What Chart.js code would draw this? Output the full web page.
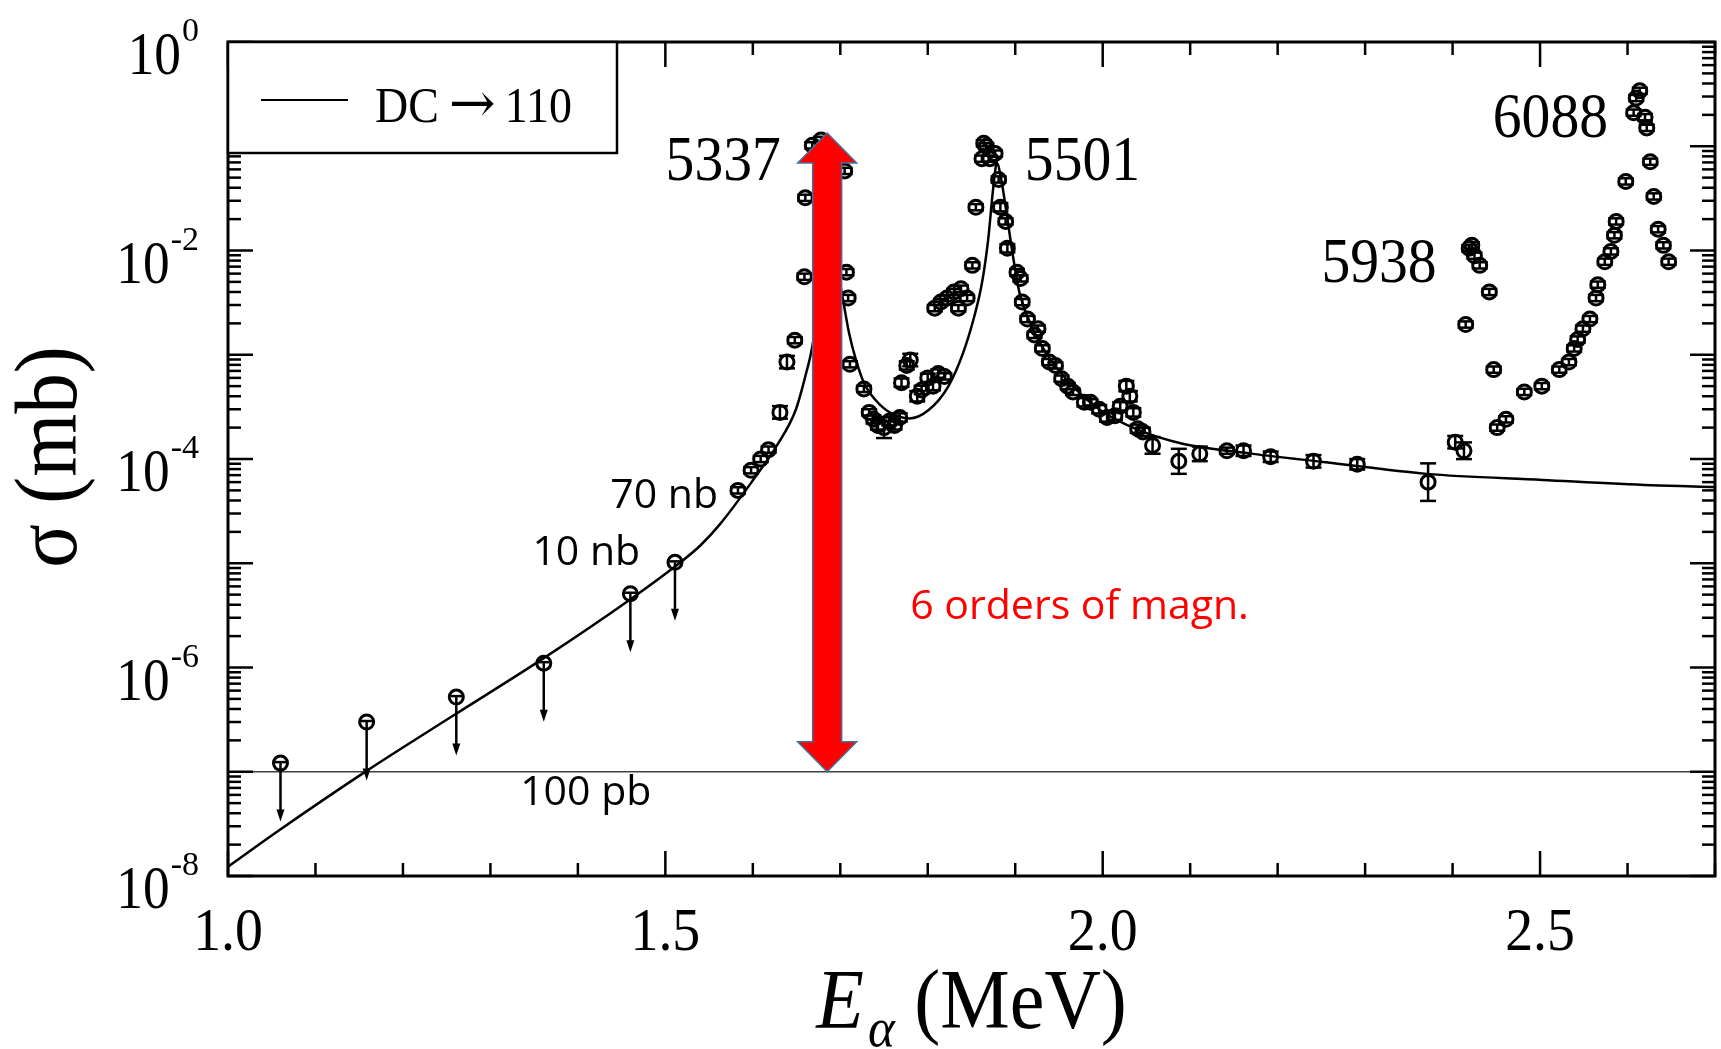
<!DOCTYPE html>
<html>
<head>
<meta charset="utf-8">
<title>DC → 110 cross section</title>
<script src="https://cdn.jsdelivr.net/npm/chart.js@4.4.1/dist/chart.umd.min.js"></script>
<style>
  html, body { margin: 0; padding: 0; background: #fff; overflow: hidden; }
  #chart { position: absolute; left: 0; top: 0; }
</style>
</head>
<body>
<canvas id="chart" width="1725" height="1049"></canvas>
<script>
// ---- values ---------------------------------------------------------------

// DC -> 110 calculation (sigma in mb)
const curveE = [1.000, 1.0585, 1.1585, 1.2585, 1.361, 1.461, 1.511, 1.540, 1.563, 1.598, 1.629,
  1.649, 1.660, 1.668, 1.676, 1.686, 1.696, 1.703, 1.710, 1.718, 1.727,
  1.740, 1.758, 1.779, 1.801, 1.823, 1.840, 1.853, 1.862, 1.869, 1.875,
  1.879, 1.884, 1.890, 1.897, 1.905, 1.919, 1.936, 1.962, 1.997, 2.040,
  2.090, 2.172, 2.255, 2.370, 2.503, 2.627, 2.700];
const curveSigma = [1.23e-8, 2.75e-8, 1.02e-7, 3.5e-7, 1.23e-6, 4.57e-6, 9.3e-6, 1.48e-5, 2.4e-5, 5.9e-5, 1.41e-4,
  2.95e-4, 6.2e-4, 1.20e-3, 3.5e-3, 2.5e-2, 7.1e-3, 3.4e-3, 1.62e-3, 8.9e-4, 5.4e-4,
  3.7e-4, 2.75e-4, 2.45e-4, 2.95e-4, 4.9e-4, 1.02e-3, 2.3e-3, 4.9e-3, 1.26e-2, 4.1e-2,
  6.9e-2, 4.8e-2, 2.3e-2, 9.3e-3, 3.9e-3, 1.86e-3, 1.02e-3, 5.4e-4, 2.95e-4, 1.91e-4,
  1.41e-4, 1.12e-4, 9.3e-5, 7.2e-5, 6.3e-5, 5.6e-5, 5.4e-5];

// measured points (sigma in mb), error half-width in decades
const dataE = [1.583, 1.598, 1.609, 1.618, 1.631, 1.639, 1.648, 1.659, 1.660, 1.668,
  1.678, 1.705, 1.707, 1.709, 1.711, 1.727, 1.733, 1.738, 1.743, 1.750,
  1.756, 1.762, 1.768, 1.770, 1.776, 1.780, 1.788, 1.793, 1.800, 1.806,
  1.812, 1.819, 1.808, 1.815, 1.822, 1.830, 1.838, 1.845, 1.835, 1.851,
  1.855, 1.862, 1.864, 1.867, 1.871, 1.877, 1.881, 1.883, 1.889, 1.891,
  1.902, 1.906, 1.908, 1.914, 1.922, 1.926, 1.931, 1.939, 1.946, 1.953,
  1.960, 1.966, 1.979, 1.986, 1.996, 2.005, 2.014, 2.020, 2.027, 2.031,
  2.035, 2.040, 2.046, 2.057, 2.087, 2.111, 2.142, 2.161, 2.192, 2.241,
  2.291, 2.372, 2.403, 2.413, 2.415, 2.419, 2.422, 2.425, 2.431, 2.442,
  2.447, 2.451, 2.461, 2.482, 2.502, 2.522, 2.533, 2.539, 2.543, 2.549,
  2.557, 2.564, 2.566, 2.574, 2.581, 2.585, 2.587, 2.598, 2.607, 2.610,
  2.614, 2.620, 2.622, 2.626, 2.630, 2.635, 2.641, 2.647];
const dataSigma = [5.0e-5, 7.8e-5, 1.0e-4, 1.23e-4, 2.8e-4, 8.5e-4, 1.38e-3, 5.6e-3, 3.2e-2, 1.02e-1,
  1.15e-1, 5.8e-2, 6.2e-3, 3.5e-3, 8.1e-4, 4.7e-4, 2.8e-4, 2.4e-4, 2.1e-4, 2.0e-4,
  2.3e-4, 2.1e-4, 2.5e-4, 5.4e-4, 7.9e-4, 8.9e-4, 4.0e-4, 4.6e-4, 6.0e-4, 5.0e-4,
  6.6e-4, 6.2e-4, 2.8e-3, 3.2e-3, 3.5e-3, 4.0e-3, 4.3e-3, 3.5e-3, 2.8e-3, 7.2e-3,
  2.6e-2, 7.6e-2, 1.07e-1, 1.0e-1, 7.6e-2, 8.5e-2, 4.8e-2, 2.6e-2, 1.9e-2, 1.05e-2,
  6.2e-3, 5.4e-3, 3.2e-3, 2.2e-3, 1.55e-3, 1.78e-3, 1.15e-3, 8.5e-4, 7.9e-4, 5.9e-4,
  5.0e-4, 4.4e-4, 3.5e-4, 3.5e-4, 3.0e-4, 2.5e-4, 2.6e-4, 3.2e-4, 5.0e-4, 4.0e-4,
  2.8e-4, 1.95e-4, 1.82e-4, 1.35e-4, 9.5e-5, 1.12e-4, 1.2e-4, 1.2e-4, 1.05e-4, 9.5e-5,
  8.9e-5, 6.0e-5, 1.45e-4, 1.2e-4, 1.95e-3, 1.05e-2, 1.12e-2, 8.9e-3, 7.2e-3, 4.0e-3,
  7.2e-4, 2.0e-4, 2.4e-4, 4.4e-4, 5.0e-4, 7.2e-4, 8.5e-4, 1.15e-3, 1.4e-3, 1.78e-3,
  2.2e-3, 3.5e-3, 4.7e-3, 7.8e-3, 9.8e-3, 1.4e-2, 1.9e-2, 4.6e-2, 2.1e-1, 2.9e-1,
  3.4e-1, 1.9e-1, 1.5e-1, 7.1e-2, 3.3e-2, 1.6e-2, 1.12e-2, 7.8e-3];
const dataErrDex = [0.03, 0.03, 0.03, 0.03, 0.06, 0.06, 0.03, 0.03, 0.03, 0.03,
  0.03, 0.03, 0.03, 0.03, 0.03, 0.03, 0.03, 0.04, 0.04, 0.10,
  0.04, 0.04, 0.04, 0.04, 0.04, 0.06, 0.05, 0.04, 0.04, 0.04,
  0.04, 0.03, 0.03, 0.03, 0.03, 0.03, 0.03, 0.03, 0.03, 0.03,
  0.03, 0.03, 0.03, 0.03, 0.03, 0.03, 0.03, 0.04, 0.03, 0.04,
  0.03, 0.03, 0.03, 0.03, 0.03, 0.03, 0.03, 0.03, 0.03, 0.03,
  0.03, 0.03, 0.04, 0.03, 0.04, 0.04, 0.04, 0.04, 0.05, 0.05,
  0.04, 0.04, 0.04, 0.08, 0.12, 0.07, 0.03, 0.05, 0.05, 0.06,
  0.05, 0.18, 0.06, 0.08, 0.03, 0.03, 0.03, 0.03, 0.03, 0.03,
  0.03, 0.03, 0.03, 0.03, 0.03, 0.03, 0.03, 0.03, 0.03, 0.03,
  0.03, 0.03, 0.03, 0.03, 0.03, 0.03, 0.03, 0.03, 0.03, 0.03,
  0.03, 0.03, 0.03, 0.03, 0.03, 0.03, 0.03, 0.03];

// upper limits (sigma in mb)
const limitE = [1.060, 1.1585, 1.261, 1.361, 1.460, 1.511];
const limitSigma = [1.21e-7, 3.0e-7, 5.2e-7, 1.1e-6, 5.1e-6, 1.02e-5];

// tick labels
const xTickLabelValues = [1.0, 1.5, 2.0, 2.5];
const xTickLabels = ['1.0', '1.5', '2.0', '2.5'];
const yTickLabelValues = [1, 1e-2, 1e-4, 1e-6, 1e-8];
const yTickLabelExps = ['0', '-2', '-4', '-6', '-8'];

// resonance names and notes
const peakNames = ['5337', '5501', '5938', '6088'];
const noteTexts = ['70 nb', '10 nb', '100 pb', '6 orders of magn.'];
const refLineSigma = 1e-7;   // 100 pb

// ---- helpers ----------------------------------------------------------------
const SERIF = '"Liberation Serif", "Times New Roman", serif';
const SANS = '"Open Sans", "Noto Sans", sans-serif';

function txt(ctx, s, x, y, font, align, sx, color) {
  ctx.save();
  ctx.font = font;
  ctx.fillStyle = color || '#000';
  ctx.textAlign = align || 'left';
  ctx.textBaseline = 'alphabetic';
  ctx.translate(x, y);
  ctx.scale(sx || 1, 1);
  ctx.fillText(s, 0, 0);
  ctx.restore();
}

function textWidth(ctx, s, font, sx) {
  ctx.save();
  ctx.font = font;
  const w = ctx.measureText(s).width * (sx || 1);
  ctx.restore();
  return w;
}

function line(ctx, x1, y1, x2, y2) {
  ctx.beginPath();
  ctx.moveTo(x1, y1);
  ctx.lineTo(x2, y2);
  ctx.stroke();
}

// ---- plugin: frame, inward ticks, labels, error bars, annotations --------
const figureDecor = {
  id: 'figureDecor',

  beforeDatasetsDraw(chart, args, o) {
    const { ctx, chartArea: a, scales: { y } } = chart;
    const py = y.getPixelForValue(refLineSigma);
    ctx.save();
    ctx.strokeStyle = '#404040';
    ctx.lineWidth = 1.5;
    line(ctx, a.left, py, a.right, py);
    ctx.restore();
  },

  afterDatasetsDraw(chart, args, o) {
    const { ctx, scales: { x, y } } = chart;
    ctx.save();
    ctx.strokeStyle = '#000';
    ctx.fillStyle = '#000';
    ctx.lineWidth = 2.5;

    // error bars
    dataE.forEach((e, i) => {
      const px = x.getPixelForValue(e);
      const f = Math.pow(10, dataErrDex[i]);
      const y1 = y.getPixelForValue(dataSigma[i] * f);
      const y2 = y.getPixelForValue(dataSigma[i] / f);
      line(ctx, px, y1, px, y2);
      line(ctx, px - 8, y1, px + 8, y1);
      line(ctx, px - 8, y2, px + 8, y2);
    });

    // upper limits: arrow pointing down
    limitE.forEach((e, i) => {
      const px = x.getPixelForValue(e);
      const y1 = y.getPixelForValue(limitSigma[i]);
      const y2 = y.getPixelForValue(limitSigma[i] * o.limitDrop);
      line(ctx, px, y1, px, y2 - 6);
      line(ctx, px - 6, y1 - 1, px + 6, y1 - 1);
      ctx.beginPath();
      ctx.moveTo(px - 4, y2 - 12);
      ctx.lineTo(px + 4, y2 - 12);
      ctx.lineTo(px, y2);
      ctx.closePath();
      ctx.fill();
    });
    ctx.restore();
  },

  afterDraw(chart, args, o) {
    const { ctx, chartArea: a, scales: { x, y } } = chart;
    ctx.save();
    ctx.strokeStyle = '#000';

    // inward ticks on all four sides
    ctx.lineWidth = 2.5;
    x.ticks.forEach(t => {
      const v = t.value;
      const px = x.getPixelForValue(v);
      const major = Math.abs(v * 2 - Math.round(v * 2)) < 1e-6;
      const len = major ? 25 : 13;
      line(ctx, px, a.bottom, px, a.bottom - len);
      line(ctx, px, a.top, px, a.top + len);
    });
    y.ticks.forEach(t => {
      const v = t.value;
      const p = Math.floor(Math.log10(v) + 1e-9);
      const major = Math.abs(v / Math.pow(10, p) - 1) < 1e-6;
      const len = major ? 25 : 13;
      const py = y.getPixelForValue(v);
      line(ctx, a.left, py, a.left + len, py);
      line(ctx, a.right, py, a.right - len, py);
    });

    // frame
    ctx.lineWidth = 3;
    ctx.strokeRect(a.left, a.top, a.right - a.left, a.bottom - a.top);

    // x tick labels
    xTickLabelValues.forEach((v, i) => {
      txt(ctx, xTickLabels[i], x.getPixelForValue(v), a.bottom + 74, '62px ' + SERIF, 'center', 0.9);
    });

    // y tick labels 10^n
    yTickLabelValues.forEach((v, i) => {
      const py = y.getPixelForValue(v);
      const expFont = '34px ' + SERIF;
      const right = a.left - 29;
      const ew = textWidth(ctx, yTickLabelExps[i], expFont, 1);
      txt(ctx, yTickLabelExps[i], right, py - 1, expFont, 'right', 1);
      txt(ctx, '10', right - ew - 1, py + 32, '62px ' + SERIF, 'right', 0.86);
    });

    // x axis title: E_alpha (MeV)
    const fBig = '84px ' + SERIF, fIt = 'italic 84px ' + SERIF, fSub = 'italic 55px ' + SERIF;
    const sxT = 0.93;
    const wE = textWidth(ctx, 'E', fIt, sxT);
    const wA = textWidth(ctx, 'α', fSub, sxT);
    const wM = textWidth(ctx, ' (MeV)', fBig, sxT);
    let tx = (a.left + a.right) / 2 - (wE + 4 + wA + wM) / 2;
    const ty = a.bottom + 152;
    txt(ctx, 'E', tx, ty, fIt, 'left', sxT);
    tx += wE + 4;
    txt(ctx, 'α', tx, ty + 18, fSub, 'left', sxT);
    tx += wA;
    txt(ctx, ' (MeV)', tx, ty, fBig, 'left', sxT);

    // y axis title: sigma (mb), rotated
    ctx.save();
    ctx.translate(76, (a.top + a.bottom) / 2 - 2);
    ctx.rotate(-Math.PI / 2);
    ctx.scale(0.91, 1);
    ctx.font = '89px ' + SERIF;
    ctx.fillStyle = '#000';
    ctx.textAlign = 'center';
    ctx.fillText('σ (mb)', 0, 0);
    ctx.restore();

    // resonance labels
    o.peaks.forEach((p, i) => {
      txt(ctx, peakNames[i], x.getPixelForValue(p.e), y.getPixelForValue(p.s), '64px ' + SERIF, p.align, 0.9);
    });

    // notes
    o.notes.forEach((n, i) => {
      txt(ctx, noteTexts[i], x.getPixelForValue(n.e), y.getPixelForValue(n.s), '41px ' + SANS, 'left', 1, n.color);
    });

    // legend box
    const lg = o.legendBox;
    ctx.fillStyle = '#fff';
    ctx.fillRect(a.left, a.top, lg.w, lg.h);
    ctx.lineWidth = 2.5;
    ctx.strokeRect(a.left, a.top, lg.w, lg.h);
    ctx.lineWidth = 2;
    line(ctx, a.left + 33, a.top + 58, a.left + 120, a.top + 58);
    const parts = chart.data.datasets[0].label.split(' ');   // "DC", "→", "110"
    const lf = '51px ' + SERIF, af = '56px "DejaVu Serif", ' + SERIF;
    let lx = a.left + 147;
    const ly = a.top + 80;
    txt(ctx, parts[0], lx, ly, lf, 'left', 0.9);
    lx += textWidth(ctx, parts[0], lf, 0.9) + 10;
    txt(ctx, parts[1], lx, ly, af, 'left', 1);
    lx += textWidth(ctx, parts[1], af, 1) + 9;
    txt(ctx, parts[2], lx, ly, lf, 'left', 0.9);

    // red double arrow spanning the six decades
    const ar = o.arrow;
    const cx = x.getPixelForValue(ar.e);
    const yt = y.getPixelForValue(ar.top);
    const yb = y.getPixelForValue(ar.bottom);
    const hw = 29.5, sw = 14.5, hl = 30;
    ctx.beginPath();
    ctx.moveTo(cx, yt);
    ctx.lineTo(cx + hw, yt + hl);
    ctx.lineTo(cx + sw, yt + hl);
    ctx.lineTo(cx + sw, yb - hl);
    ctx.lineTo(cx + hw, yb - hl);
    ctx.lineTo(cx, yb);
    ctx.lineTo(cx - hw, yb - hl);
    ctx.lineTo(cx - sw, yb - hl);
    ctx.lineTo(cx - sw, yt + hl);
    ctx.lineTo(cx - hw, yt + hl);
    ctx.closePath();
    ctx.fillStyle = '#ff0000';
    ctx.fill();
    ctx.strokeStyle = '#41719c';
    ctx.lineWidth = 1.5;
    ctx.stroke();

    ctx.restore();
  }
};

// ---- chart ----------------------------------------------------------------
const xTicks = [];
for (let i = 10; i <= 27; i++) xTicks.push(i / 10);
const yTicks = [];
for (let p = -8; p < 0; p++) {
  for (let m = 1; m <= 9; m++) yTicks.push(Number((m * Math.pow(10, p)).toPrecision(3)));
}
yTicks.push(1);

const pointStyle = {
  pointRadius: 7,
  pointBorderWidth: 3,
  pointBorderColor: '#000',
  pointBackgroundColor: 'rgba(255,255,255,0)',
  borderColor: '#000',
  backgroundColor: 'rgba(255,255,255,0)'
};

new Chart(document.getElementById('chart'), {
  type: 'scatter',
  data: {
    datasets: [
      {
        type: 'line',
        label: 'DC → 110',
        data: curveE.map((e, i) => ({ x: e, y: curveSigma[i] })),
        borderColor: '#000',
        borderWidth: 2.5,
        pointRadius: 0,
        cubicInterpolationMode: 'monotone',
        fill: false
      },
      Object.assign({ label: 'data', data: dataE.map((e, i) => ({ x: e, y: dataSigma[i] })) }, pointStyle),
      Object.assign({ label: 'upper limits', data: limitE.map((e, i) => ({ x: e, y: limitSigma[i] })) }, pointStyle)
    ]
  },
  options: {
    responsive: false,
    animation: false,
    devicePixelRatio: 1,
    layout: { padding: { left: 228, top: 42, right: 1, bottom: 173 } },
    scales: {
      x: {
        type: 'linear', min: 1.0, max: 2.7,
        grid: { display: false }, border: { display: false },
        ticks: { display: false },
        afterBuildTicks: s => { s.ticks = xTicks.map(v => ({ value: v })); },
        afterFit: s => { s.height = 0; }
      },
      y: {
        type: 'logarithmic', min: 1e-8, max: 1,
        grid: { display: false }, border: { display: false },
        ticks: { display: false },
        afterBuildTicks: s => { s.ticks = yTicks.map(v => ({ value: v })); },
        afterFit: s => { s.width = 0; }
      }
    },
    plugins: {
      legend: { display: false },
      tooltip: { enabled: false },
      figureDecor: {
        limitDrop: 0.275,
        legendBox: { w: 389, h: 111 },
        arrow: { e: 1.685, top: 0.134, bottom: 1e-7 },
        peaks: [
          { e: 1.632, s: 0.0474, align: 'right' },
          { e: 1.911, s: 0.0474, align: 'left' },
          { e: 2.250, s: 5.0e-3, align: 'left' },
          { e: 2.446, s: 0.124, align: 'left' }
        ],
        notes: [
          { e: 1.437, s: 3.4e-5, color: '#000' },
          { e: 1.348, s: 9.6e-6, color: '#000' },
          { e: 1.334, s: 4.8e-8, color: '#000' },
          { e: 1.780, s: 2.9e-6, color: '#ff0000' }
        ]
      }
    }
  },
  plugins: [figureDecor]
});
</script>
</body>
</html>
